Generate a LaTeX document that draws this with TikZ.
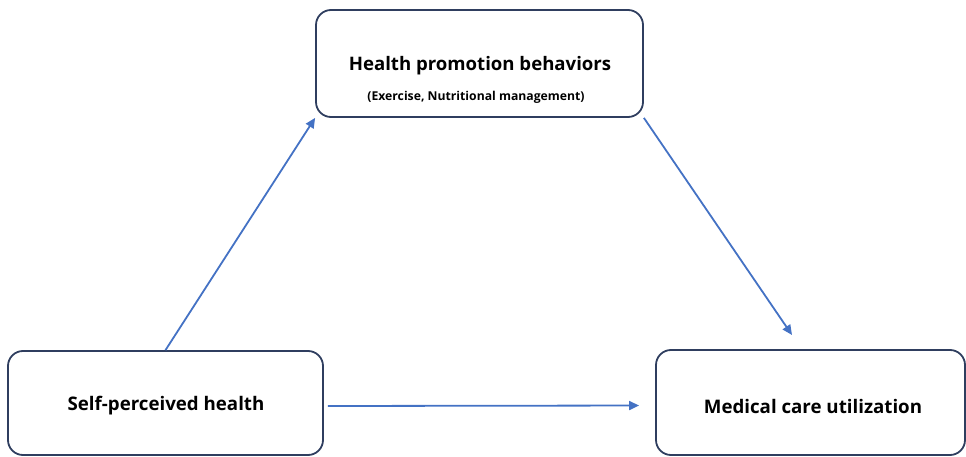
\documentclass[tikz,border=0pt]{standalone}
\usepackage{fontspec}
\setmainfont{Open Sans}
\usetikzlibrary{arrows.meta}
\definecolor{boxline}{RGB}{47,62,95}
\definecolor{arrowblue}{RGB}{68,114,196}
\tikzset{
  box/.style={draw=boxline, line width=1.8pt, rounded corners=15pt},
  link/.style={draw=arrowblue, line width=1.8pt, -{Triangle[length=10pt,width=9pt]}}
}
\begin{document}
\begin{tikzpicture}[x=1pt,y=-1pt]
\useasboundingbox (0,0) rectangle (966,457);
\node[box, minimum width=327pt, minimum height=107pt] (1) at (479.5,63.5) {};
\node[font=\bfseries\fontsize{18.6}{20}\selectfont] (1a) at (480,66) {Health promotion behaviors};
\node[font=\bfseries\fontsize{12.2}{14}\selectfont] (1b) at (476,97) {(Exercise, Nutritional management)};
\node[box, minimum width=315pt, minimum height=104pt] (2) at (165.5,403) {};
\node[font=\bfseries\fontsize{18.7}{20}\selectfont] (2a) at (166,406) {Self-perceived health};
\node[box, minimum width=309pt, minimum height=105pt] (3) at (810.5,402.5) {};
\node[font=\bfseries\fontsize{18.7}{20}\selectfont] (3a) at (813,406) {Medical care utilization};
\coordinate (3n) at (792,335);
\path[link] (2.north) -- (1.south west);
\path[link] (1.south east) -- (3n);
\path[link, shorten <=4pt, shorten >=16pt] ([yshift=-3pt]2.east) -- ([yshift=-3pt]3.west);
\end{tikzpicture}
\end{document}
